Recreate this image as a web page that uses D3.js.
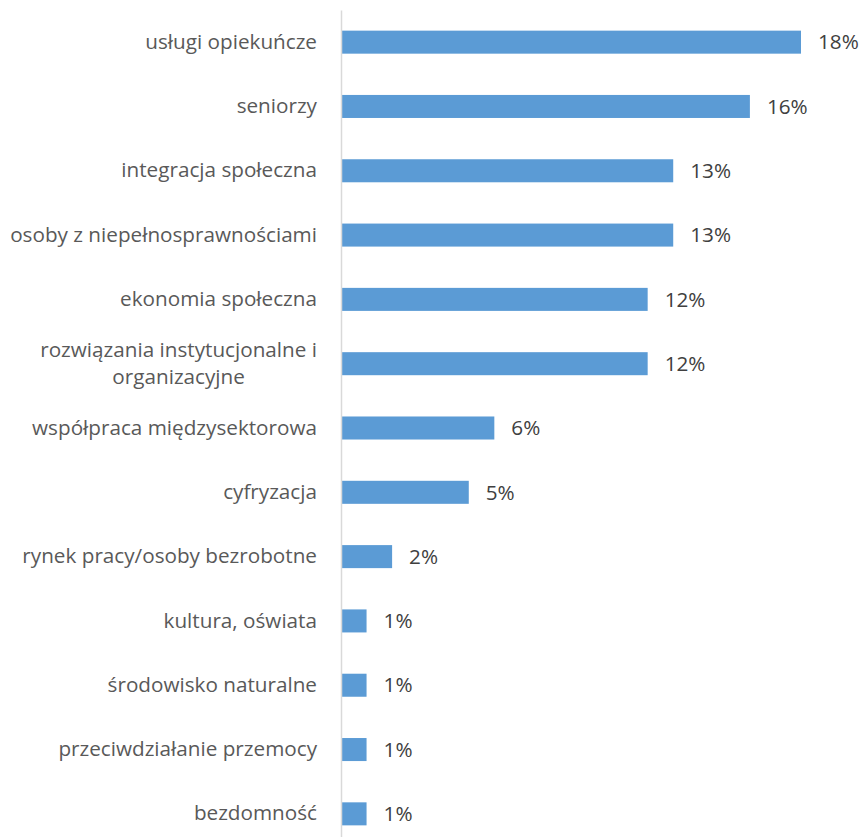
<!DOCTYPE html>
<html>
<head>
<meta charset="utf-8">
<script src="https://cdn.jsdelivr.net/npm/d3@7"></script>
<style>
  html, body { margin: 0; padding: 0; background: #fff; }
  svg { display: block; }
</style>
</head>
<body>
<svg id="chart" width="861" height="837"></svg>
<script>
// Categories (top to bottom) and their shares in percent
const categories = [
  "usługi opiekuńcze",
  "seniorzy",
  "integracja społeczna",
  "osoby z niepełnosprawnościami",
  "ekonomia społeczna",
  "rozwiązania instytucjonalne i organizacyjne",
  "współpraca międzysektorowa",
  "cyfryzacja",
  "rynek pracy/osoby bezrobotne",
  "kultura, oświata",
  "środowisko naturalne",
  "przeciwdziałanie przemocy",
  "bezdomność"
];
const values = [18, 16, 13, 13, 12, 12, 6, 5, 2, 1, 1, 1, 1];
// Manual line breaks for long category names
const labelLines = {
  "rozwiązania instytucjonalne i organizacyjne": ["rozwiązania instytucjonalne i", "organizacyjne"]
};

const FONT = "Open Sans, Liberation Sans, sans-serif";
const FS = "20.7px";
const svg = d3.select("#chart");

const x = d3.scaleLinear().domain([0, 18]).range([341, 801]);
const y = d3.scaleBand().domain(categories).range([10, 846])
  .paddingInner(0.642).paddingOuter(0.321);

const data = categories.map((c, i) => ({ c, v: values[i] }));

// Bars
svg.append("g").selectAll("rect").data(data).join("rect")
  .attr("x", x(0))
  .attr("y", d => y(d.c))
  .attr("width", d => x(d.v) - x(0))
  .attr("height", y.bandwidth())
  .attr("fill", "#5b9bd5");

// Category axis
const axis = svg.append("g")
  .attr("transform", `translate(${x(0)},0)`)
  .call(d3.axisLeft(y).tickSize(0).tickPadding(24));
axis.select(".domain").attr("stroke", "#d9d9d9").attr("stroke-width", 1.5);
axis.selectAll(".tick text")
  .attr("fill", "#595959")
  .style("font-family", FONT)
  .style("font-size", FS)
  .each(function(d) {
    const lines = labelLines[d];
    if (!lines) return;
    const t = d3.select(this).text(null).attr("dy", null);
    const lh = 27;
    lines.forEach((ln, i) => {
      t.append("tspan").text(ln)
        .attr("x", -24)
        .attr("y", (i - (lines.length - 1) / 2) * lh)
        .attr("dy", "0.32em");
    });
    // centre shorter lines under the widest one, block right-aligned
    const spans = t.selectAll("tspan").nodes();
    const w = d3.max(spans, s => s.getComputedTextLength());
    t.attr("text-anchor", "middle");
    spans.forEach(s => s.setAttribute("x", -24 - w / 2));
  });

// Value labels
svg.append("g").selectAll("text").data(data).join("text")
  .attr("x", d => x(d.v) + 17)
  .attr("y", d => y(d.c) + y.bandwidth() / 2)
  .attr("dy", "0.35em")
  .attr("fill", "#404040")
  .style("font-family", FONT)
  .style("font-size", FS)
  .text(d => d.v + "%");
</script>
</body>
</html>
